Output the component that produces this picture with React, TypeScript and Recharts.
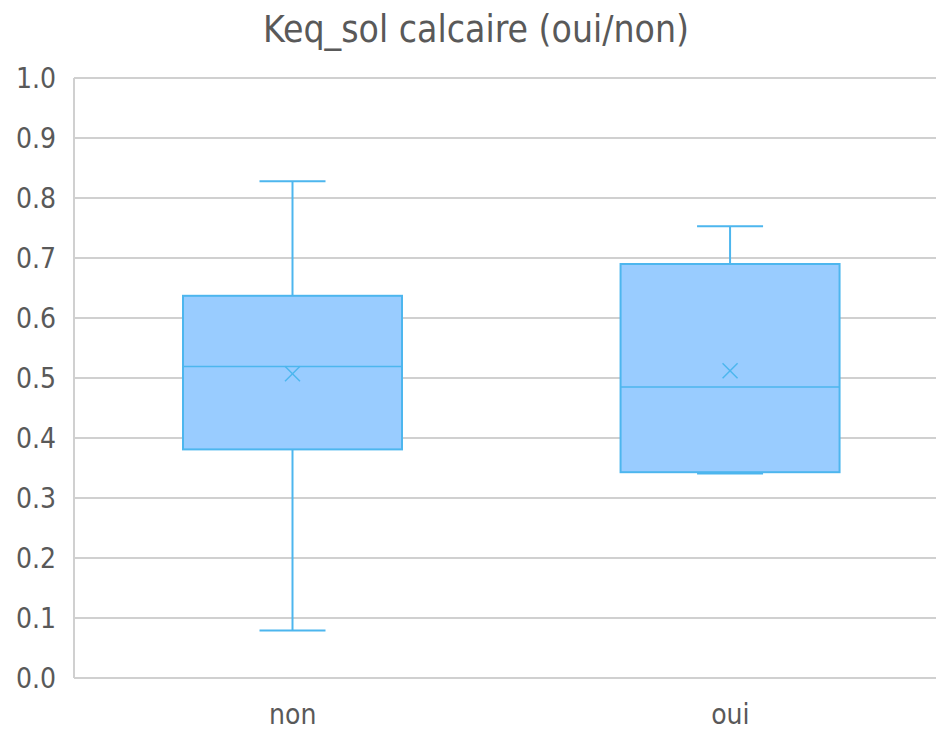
import React from "react";
import { ComposedChart, Bar, XAxis, YAxis, CartesianGrid } from "recharts";

const categories = ["non", "oui"];
const positions = [1, 2];
const minValues = [0.079, 0.341];
const q1Values = [0.381, 0.343];
const medianValues = [0.519, 0.485];
const q3Values = [0.637, 0.69];
const maxValues = [0.828, 0.753];
const meanValues = [0.507, 0.512];
const yTicks = [0, 0.1, 0.2, 0.3, 0.4, 0.5, 0.6, 0.7, 0.8, 0.9, 1.0];

const data = categories.map((c, i) => ({
  name: c,
  pos: positions[i],
  min: minValues[i],
  q1: q1Values[i],
  median: medianValues[i],
  q3: q3Values[i],
  max: maxValues[i],
  mean: meanValues[i],
  range: [minValues[i], maxValues[i]],
}));

const FONT = "'DejaVu Sans Condensed', 'DejaVu Sans', sans-serif";
const TEXT = "#595959";
const LINE = "#4DB6EE";
const FILL = "#99CCFF";

const BoxShape = (props: any) => {
  const { x, y, width, height, payload } = props;
  if (payload == null) return null;
  const { min, q1, median, q3, max, mean } = payload;
  const py = (v: number) => y + (height * (max - v)) / (max - min);
  const cx = x + width / 2;
  const cap = 33;
  const m = 7.5;
  const my = py(mean);
  return (
    <g>
      <line x1={cx} x2={cx} y1={py(max)} y2={py(q3)} stroke={LINE} strokeWidth={2} />
      <line x1={cx} x2={cx} y1={py(q1)} y2={py(min)} stroke={LINE} strokeWidth={2} />
      <line x1={cx - cap} x2={cx + cap} y1={py(max)} y2={py(max)} stroke={LINE} strokeWidth={2} />
      <line x1={cx - cap} x2={cx + cap} y1={py(min)} y2={py(min)} stroke={LINE} strokeWidth={2} />
      <rect x={x} y={py(q3)} width={width} height={py(q1) - py(q3)} fill={FILL} stroke={LINE} strokeWidth={2} />
      <line x1={x} x2={x + width} y1={py(median)} y2={py(median)} stroke={LINE} strokeWidth={1.5} />
      <line x1={cx - m} x2={cx + m} y1={my - m} y2={my + m} stroke={LINE} strokeWidth={1.5} />
      <line x1={cx - m} x2={cx + m} y1={my + m} y2={my - m} stroke={LINE} strokeWidth={1.5} />
    </g>
  );
};

export default function App() {
  return (
    <div style={{ position: "absolute", left: 0, top: 0, width: 938, height: 731, background: "#fff" }}>
      <div
        style={{
          position: "absolute",
          left: 0,
          top: 6,
          width: 952,
          textAlign: "center",
          fontFamily: FONT,
          fontSize: 37,
          color: TEXT,
          lineHeight: "48px",
        }}
      >
        Keq_sol calcaire (oui/non)
      </div>
      <ComposedChart
        width={938}
        height={731}
        data={data}
        margin={{ top: 78, right: 2, bottom: 0, left: 0 }}
      >
        <CartesianGrid horizontal vertical={false} stroke="#d0d0d0" strokeWidth={2} />
        <XAxis
          type="number"
          dataKey="pos"
          domain={[0.5, 2.47]}
          ticks={positions}
          tickFormatter={(v: number) => categories[positions.indexOf(v)] ?? ""}
          tickLine={false}
          axisLine={{ stroke: "#d0d0d0", strokeWidth: 2 }}
          tick={{ fill: TEXT, fontSize: 28, fontFamily: FONT }}
          tickMargin={20}
          height={53}
          allowDataOverflow
        />
        <YAxis
          type="number"
          domain={[0, 1]}
          ticks={yTicks}
          tickFormatter={(v: number) => v.toFixed(1)}
          width={74}
          tickLine={false}
          axisLine={{ stroke: "#d0d0d0", strokeWidth: 2 }}
          tick={{ fill: TEXT, fontSize: 28, fontFamily: FONT }}
          tickMargin={12}
        />
        <Bar dataKey="range" barSize={219} shape={BoxShape} isAnimationActive={false} />
      </ComposedChart>
    </div>
  );
}
